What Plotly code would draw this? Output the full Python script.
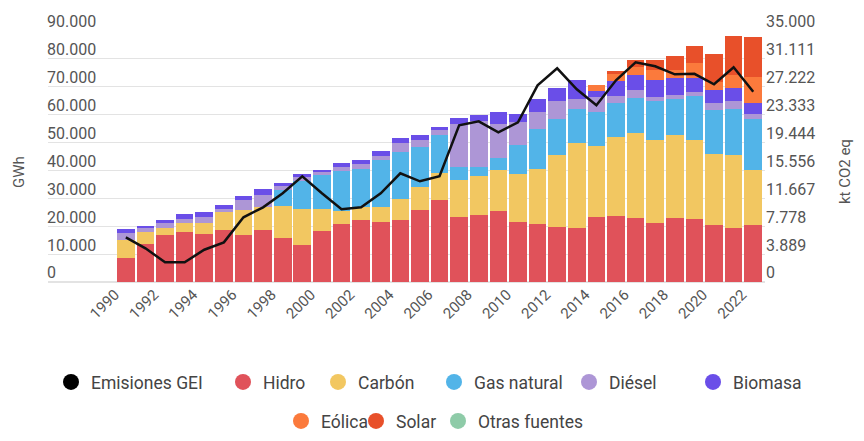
import plotly.graph_objects as go

years = list(range(1990, 2023))

hidro = [8500, 13500, 16750, 17900, 17100, 18540, 16750, 18790, 15920, 13160,
         18430, 20870, 22130, 21520, 22130, 25960, 29300, 23200, 24170, 25350,
         21520, 20940, 19790, 19510, 23200, 23560, 23090, 21050, 23090, 22480,
         20330, 19510, 20330]
carbon = [6450, 4300, 2750, 3300, 4050, 6560, 8960, 8100, 11230, 13160,
          7890, 4480, 4770, 5270, 7780, 8110, 9790, 13520, 13910, 14710,
          17350, 19730, 25640, 30340, 25640, 28440, 30340, 30010, 29520, 28580,
          25710, 25920, 19730]
gas_natural = [0, 0, 0, 0, 0, 0, 0, 0, 5980, 9860,
               11940, 14600, 13770, 16850, 16710, 14340, 13520, 4660, 3050, 4480,
               10150, 14340, 12990, 12330, 12010, 12150, 12620, 13740, 12910, 15640,
               15530, 16750, 18540]
diesel = [2500, 1400, 1500, 1500, 2150, 1220, 3590, 4440, 1190, 1370,
          1260, 1290, 1640, 1610, 3230, 2660, 1790, 15420, 16430, 12010,
          8360, 5950, 6450, 3590, 5560, 2440, 2690, 1540, 1430, 1430,
          2760, 2620, 1790]
biomasa = [1450, 1000, 1130, 1800, 1800, 1440, 1540, 2150, 1320, 1180,
           710, 1510, 1580, 1730, 1860, 1540, 1180, 1980, 2220, 4410,
           3010, 4810, 4770, 6810, 2150, 5380, 5560, 5990, 6200, 5020,
           4410, 4770, 3940]
eolica = [0] * 24 + [1980, 2510, 2800, 3590, 2770, 5530, 2980, 4550, 9180]
solar = [0] * 25 + [1080, 2400, 3580, 5120, 5950, 10180, 14100, 14350]
otras = [0] * 33
emisiones = [6230, 4700, 2750, 2750, 4500, 5530, 9020, 10410, 12370, 14740,
             12370, 10140, 10410, 12370, 15160, 14040, 14740, 21850, 22410, 20870,
             22270, 27430, 29800, 26870, 24640, 28120, 30630, 30080, 28960, 29030,
             27570, 29940, 26520]

series = [
    ("Hidro", hidro, "#e0525a"),
    ("Carbón", carbon, "#f2c761"),
    ("Gas natural", gas_natural, "#52b4e8"),
    ("Diésel", diesel, "#ad96d6"),
    ("Biomasa", biomasa, "#6a4ee8"),
    ("Eólica", eolica, "#fb7a3c"),
    ("Solar", solar, "#e8502a"),
    ("Otras fuentes", otras, "#8ecba8"),
]

left_ticks = [0, 10000, 20000, 30000, 40000, 50000, 60000, 70000, 80000, 90000]
right_ticks = [35000 * k / 9 for k in range(10)]

fig = go.Figure()

for name, vals, color in series:
    fig.add_trace(go.Bar(x=years, y=vals, name=name, marker=dict(color=color, line=dict(width=0)),
                         showlegend=False))

fig.add_trace(go.Scatter(x=years, y=emisiones, yaxis="y2", mode="lines",
                         line=dict(color="#111111", width=2.5), showlegend=False))

# one small legend per entry, so each circle sits where the reference has it
# (circle centre in page px, row centre in page px)
legend_items = [("Emisiones GEI", "#000000", 70, 382)] + \
    [(n, c, x, 382) for (n, _, c), x in zip(series[:5], [242, 337, 453, 588, 712])] + \
    [(n, c, x, 421) for (n, _, c), x in zip(series[5:], [300, 375, 457])]

legends = {}
for i, (name, color, cx, cy) in enumerate(legend_items):
    key = "legend" if i == 0 else f"legend{i + 1}"
    fig.add_trace(go.Scatter(x=[None], y=[None], mode="markers", name=name,
                             marker=dict(size=17, color=color), legend=key))
    # page body has an 8px margin around the figure
    legends[key] = dict(x=(cx - 8 - 19) / 848, y=1 - (cy - 8) / 425,
                        xanchor="left", yanchor="middle",
                        xref="container", yref="container",
                        font=dict(size=17.5, color="#444444"), bgcolor="rgba(0,0,0,0)")

axis_title = dict(xref="paper", yref="paper", y=0.438, showarrow=False, textangle=-90,
                  xanchor="center", yanchor="middle", font=dict(size=15, color="#555555"))

fig.update_layout(
    width=848, height=425,
    barmode="stack", bargap=0.1,
    separators=",.",
    paper_bgcolor="white", plot_bgcolor="white",
    font=dict(family="Roboto, sans-serif", color="#555555"),
    margin=dict(l=40, r=91, t=23, b=151, autoexpand=False),
    xaxis=dict(range=[1986.03, 2022.6], tickvals=years[::2], tickangle=-45,
               showgrid=False, zeroline=False, showline=False, ticks="",
               ticklabelshift=-11, automargin=False,
               tickfont=dict(size=15, color="#555555")),
    yaxis=dict(range=[0, 90000], tickvals=left_ticks, tickformat=",.0f",
               ticklabelposition="inside top", ticklabeloverflow="allow",
               ticklabelstandoff=-4, ticklabelshift=2, automargin=False,
               showgrid=True, gridcolor="#e3e3e3",
               zeroline=True, zerolinecolor="#e3e3e3", showline=False,
               tickfont=dict(size=16, color="#555555")),
    yaxis2=dict(range=[0, 35000], tickvals=right_ticks, tickformat=",.0f",
                overlaying="y", side="right", ticklabelposition="outside top",
                ticklabeloverflow="allow", ticklabelshift=2, automargin=False,
                showgrid=False, zeroline=False, showline=False,
                tickfont=dict(size=16, color="#555555")),
    annotations=[
        dict(text="GWh", x=(11 - 40) / 717, **axis_title),
        dict(text="kt CO2 eq", x=(837 - 40) / 717, **axis_title),
    ],
    **legends,
)

fig.write_html("out.html")
